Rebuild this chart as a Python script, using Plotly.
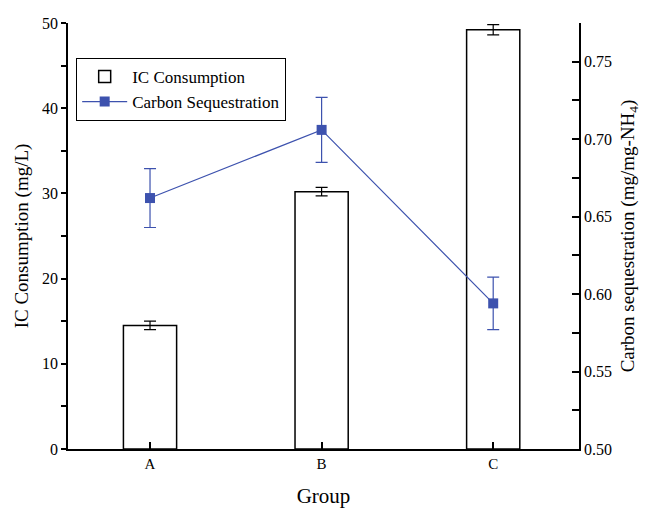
import plotly.graph_objects as go

groups = ["A", "B", "C"]
ic_consumption = [14.5, 30.2, 49.2]
ic_err = [0.5, 0.5, 0.6]
carbon_seq = [0.662, 0.706, 0.594]
carbon_err = [0.019, 0.021, 0.017]

xpos = list(range(len(groups)))
FONT = "Times New Roman, Liberation Serif, serif"
BLUE = "#3D52AE"

fig = go.Figure()
fig.add_trace(go.Bar(
    x=xpos, y=ic_consumption, name="IC Consumption",
    width=0.31,
    marker=dict(color="white", line=dict(color="black", width=1.5)),
    error_y=dict(type="data", array=ic_err, color="black", thickness=1.2, width=6),
    yaxis="y",
))
fig.add_trace(go.Scatter(
    x=xpos, y=carbon_seq, name="Carbon Sequestration",
    mode="lines+markers",
    line=dict(color=BLUE, width=1.2),
    marker=dict(symbol="square", size=10, color=BLUE),
    error_y=dict(type="data", array=carbon_err, color=BLUE, thickness=1.2, width=6),
    yaxis="y2",
))

fig.update_layout(
    width=649, height=509,
    margin=dict(l=68, r=70, t=23, b=60),
    plot_bgcolor="white", paper_bgcolor="white",
    font=dict(family=FONT, size=15, color="black"),
    showlegend=True,
    legend=dict(
        x=0.016, y=0.918, xanchor="left", yanchor="top",
        bordercolor="black", borderwidth=1, bgcolor="white",
        font=dict(family=FONT, size=17, color="black"), tracegroupgap=0,
        itemwidth=45,
    ),
    xaxis=dict(
        range=[-0.478, 2.5], automargin=False,
        tickmode="array", tickvals=xpos, ticktext=groups,
        showline=True, linecolor="black", linewidth=1.5,
        ticks="inside", ticklen=7, tickcolor="black", tickwidth=1.5,
        showgrid=False, zeroline=False, layer="above traces",
        title=dict(text="Group", font=dict(family=FONT, size=21), standoff=18),
        tickfont=dict(family=FONT, size=15),
    ),
    yaxis=dict(
        range=[0, 50], automargin=False,
        tickmode="array", tickvals=[0, 10, 20, 30, 40, 50],
        showline=True, linecolor="black", linewidth=1.5,
        ticks="outside", ticklen=5, tickcolor="black", tickwidth=1.5,
        minor=dict(ticks="outside", ticklen=5, tickcolor="black", tickwidth=1.5, dtick=5, showgrid=False),
        showgrid=False, zeroline=False,
        title=dict(text="IC Consumption (mg/L)", font=dict(family=FONT, size=19), standoff=8),
        tickfont=dict(family=FONT, size=16),
    ),
    yaxis2=dict(
        range=[0.5, 0.775], overlaying="y", side="right", automargin=False,
        tickmode="array", tickvals=[0.50, 0.55, 0.60, 0.65, 0.70, 0.75],
        ticktext=["0.50", "0.55", "0.60", "0.65", "0.70", "0.75"],
        showline=True, linecolor="black", linewidth=1.5,
        ticks="inside", ticklen=7, tickcolor="black", tickwidth=1.5,
        minor=dict(ticks="inside", ticklen=7, tickcolor="black", tickwidth=1.5, dtick=0.025, showgrid=False),
        showgrid=False, zeroline=False,
        title=dict(text="Carbon sequestration (mg/mg-NH<sub>4</sub>)", font=dict(family=FONT, size=19), standoff=10),
        tickfont=dict(family=FONT, size=16),
    ),
)

fig.write_html("out.html")
